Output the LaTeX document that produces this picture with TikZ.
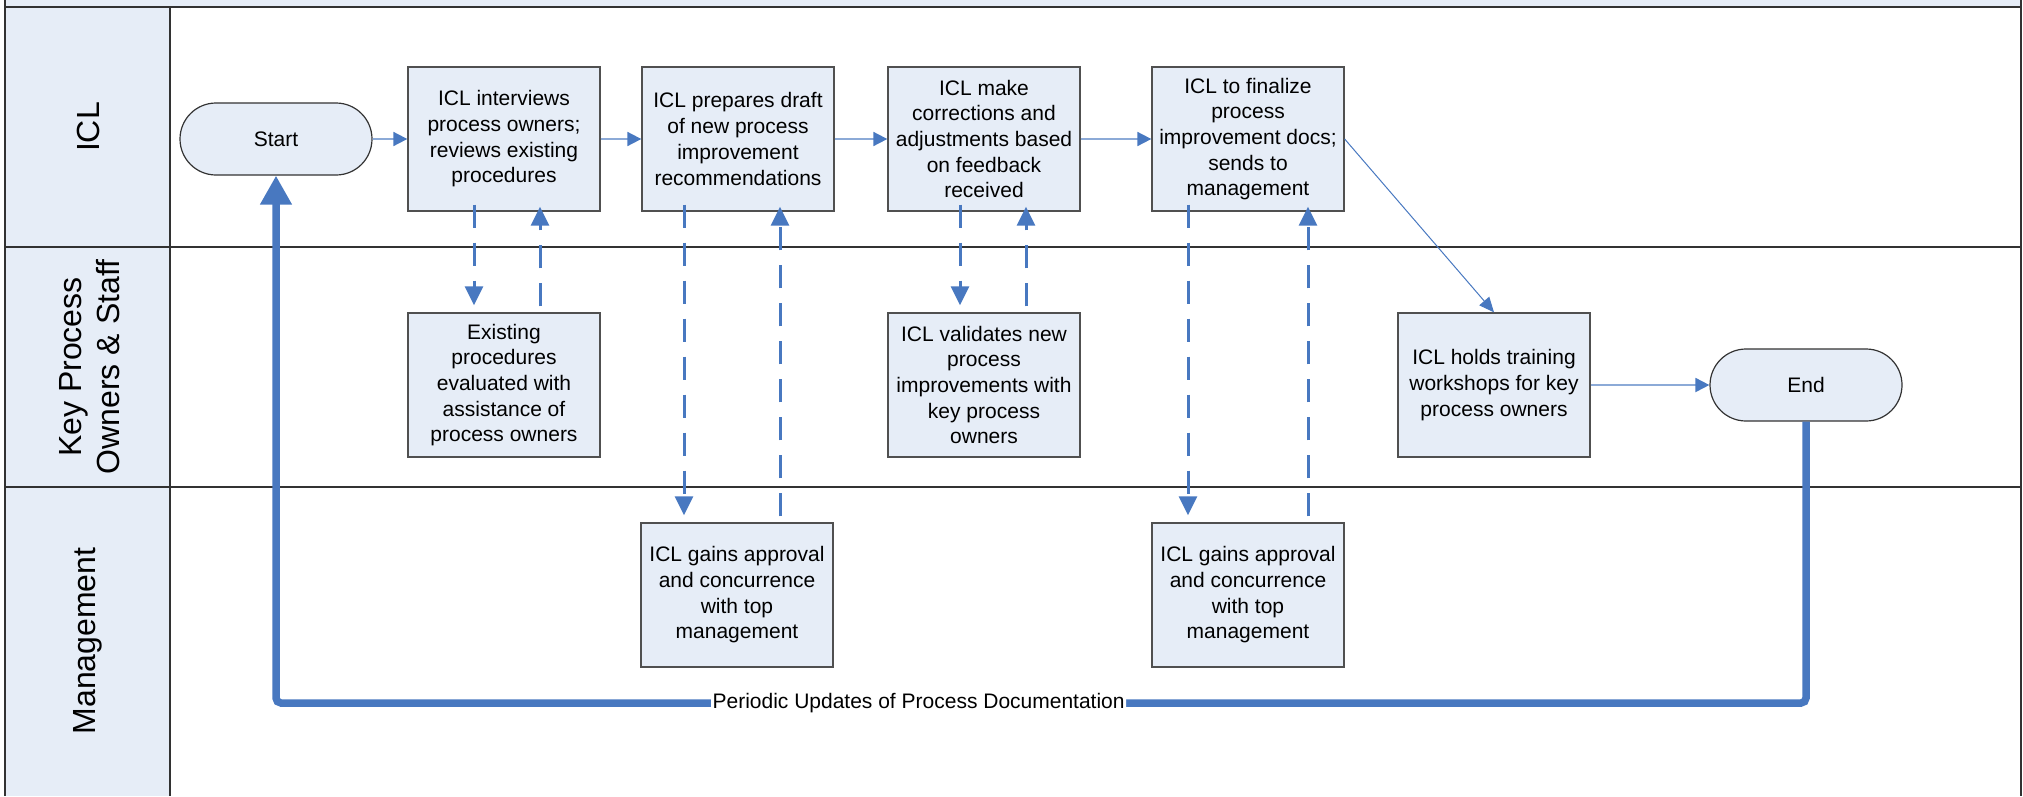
\documentclass[tikz,border=0pt]{standalone}
\usepackage{fontspec}
\setmainfont{Liberation Sans}
\usetikzlibrary{arrows.meta,shapes.misc}
\definecolor{boxfill}{RGB}{230,237,247}
\definecolor{aBlue}{RGB}{72,120,192}
\definecolor{lBlue}{RGB}{140,170,215}
\definecolor{bord}{RGB}{80,80,80}
\definecolor{laneline}{RGB}{50,50,50}
\begin{document}
\begin{tikzpicture}[x=1pt,y=-1pt,
  stepbox/.style={draw=bord, line width=1.3pt, fill=boxfill, minimum width=192pt, minimum height=144pt, inner sep=0pt, align=center, font=\fontsize{21}{25.7}\selectfont},
  term/.style={rounded rectangle, draw=black!80, line width=1.2pt, fill=boxfill, minimum width=192pt, minimum height=72pt, inner sep=0pt, font=\fontsize{21}{25.7}\selectfont},
  flow/.style={draw=lBlue, line width=1.8pt, -{Triangle[length=14pt,width=14pt,color=aBlue]}},
  diag/.style={draw=aBlue, line width=1pt, -{Triangle[length=15pt,width=13pt]}},
  dasharrow/.style={draw=aBlue, line width=3pt, dash pattern=on 23pt off 15pt, -{Triangle[length=19pt,width=18pt]}},
  loopline/.style={draw=aBlue, line width=7.5pt, rounded corners=5pt, -{Triangle[length=29pt,width=30pt]}},
  lanelabel/.style={rotate=90, font=\fontsize{32}{38}\selectfont, align=center},
  lane/.style={draw=laneline, line width=1.5pt}
]
\useasboundingbox (0,0) rectangle (2023,796);
% pool / lanes
\fill[boxfill] (5,0) rectangle (2021,7);
\fill[boxfill] (5,7) rectangle (170,796);
\draw[lane] (5,0) -- (5,796);
\draw[lane] (2021,0) -- (2021,796);
\draw[lane] (170,7) -- (170,796);
\draw[lane] (5,7) -- (2021,7);
\draw[lane] (5,247) -- (2021,247);
\draw[lane] (5,487) -- (2021,487);
\node[lanelabel] (L1) at (88,127) {ICL};
\node[lanelabel] (L2) at (90,367) {Key Process\\Owners \& Staff};
\node[lanelabel] (L3) at (88,641) {Management};

% nodes
\node[term] (Start) at (276,139) {Start};
\node[stepbox] (b1) at (504,139) {ICL interviews\\process owners;\\reviews existing\\procedures};
\node[stepbox] (b2) at (738,139) {ICL prepares draft\\of new process\\improvement\\recommendations};
\node[stepbox] (b3) at (984,139) {ICL make\\corrections and\\adjustments based\\on feedback\\received};
\node[stepbox] (b4) at (1248,139) {ICL to finalize\\process\\improvement docs;\\sends to\\management};
\node[stepbox] (ex) at (504,385) {Existing\\procedures\\evaluated with\\assistance of\\process owners};
\node[stepbox] (val) at (984,385) {ICL validates new\\process\\improvements with\\key process\\owners};
\node[stepbox] (train) at (1494,385) {ICL holds training\\workshops for key\\process owners};
\node[term] (End) at (1806,385) {End};
\node[stepbox] (ap1) at (737,595) {ICL gains approval\\and concurrence\\with top\\management};
\node[stepbox] (ap2) at (1248,595) {ICL gains approval\\and concurrence\\with top\\management};

% solid flows
\draw[flow] (Start) -- (b1);
\draw[flow] (b1) -- (b2);
\draw[flow] (b2) -- (b3);
\draw[flow] (b3) -- (b4);
\draw[flow] (train) -- (End);
\draw[diag] (b4.east) -- (train.north);

% dashed flows
\draw[dasharrow, shorten <=-7pt, shorten >=7pt] ([xshift=-30pt]b1.south) -- ([xshift=-30pt]ex.north);
\draw[dasharrow, shorten <=6pt, shorten >=-5pt] ([xshift=36pt]ex.north) -- ([xshift=36pt]b1.south);
\draw[dasharrow, shorten <=-7pt, shorten >=7pt] ([xshift=-54pt]b2.south) -- ([xshift=-53pt]ap1.north);
\draw[dasharrow, shorten <=6pt, shorten >=-5pt] ([xshift=43pt]ap1.north) -- ([xshift=42pt]b2.south);
\draw[dasharrow, shorten <=-7pt, shorten >=7pt] ([xshift=-24pt]b3.south) -- ([xshift=-24pt]val.north);
\draw[dasharrow, shorten <=6pt, shorten >=-5pt] ([xshift=42pt]val.north) -- ([xshift=42pt]b3.south);
\draw[dasharrow, shorten <=-7pt, shorten >=7pt] ([xshift=-60pt]b4.south) -- ([xshift=-60pt]ap2.north);
\draw[dasharrow, shorten <=6pt, shorten >=-5pt] ([xshift=60pt]ap2.north) -- ([xshift=60pt]b4.south);

% periodic loop
\coordinate (rb) at (1806,703);
\coordinate (lb) at (276,703);
\draw[loopline] (End.south) -- (rb) -- node[pos=0.58, fill=white, inner sep=1.5pt, font=\fontsize{21}{25}\selectfont]{Periodic Updates of Process Documentation} (lb) -- (Start.south);
\end{tikzpicture}
\end{document}
